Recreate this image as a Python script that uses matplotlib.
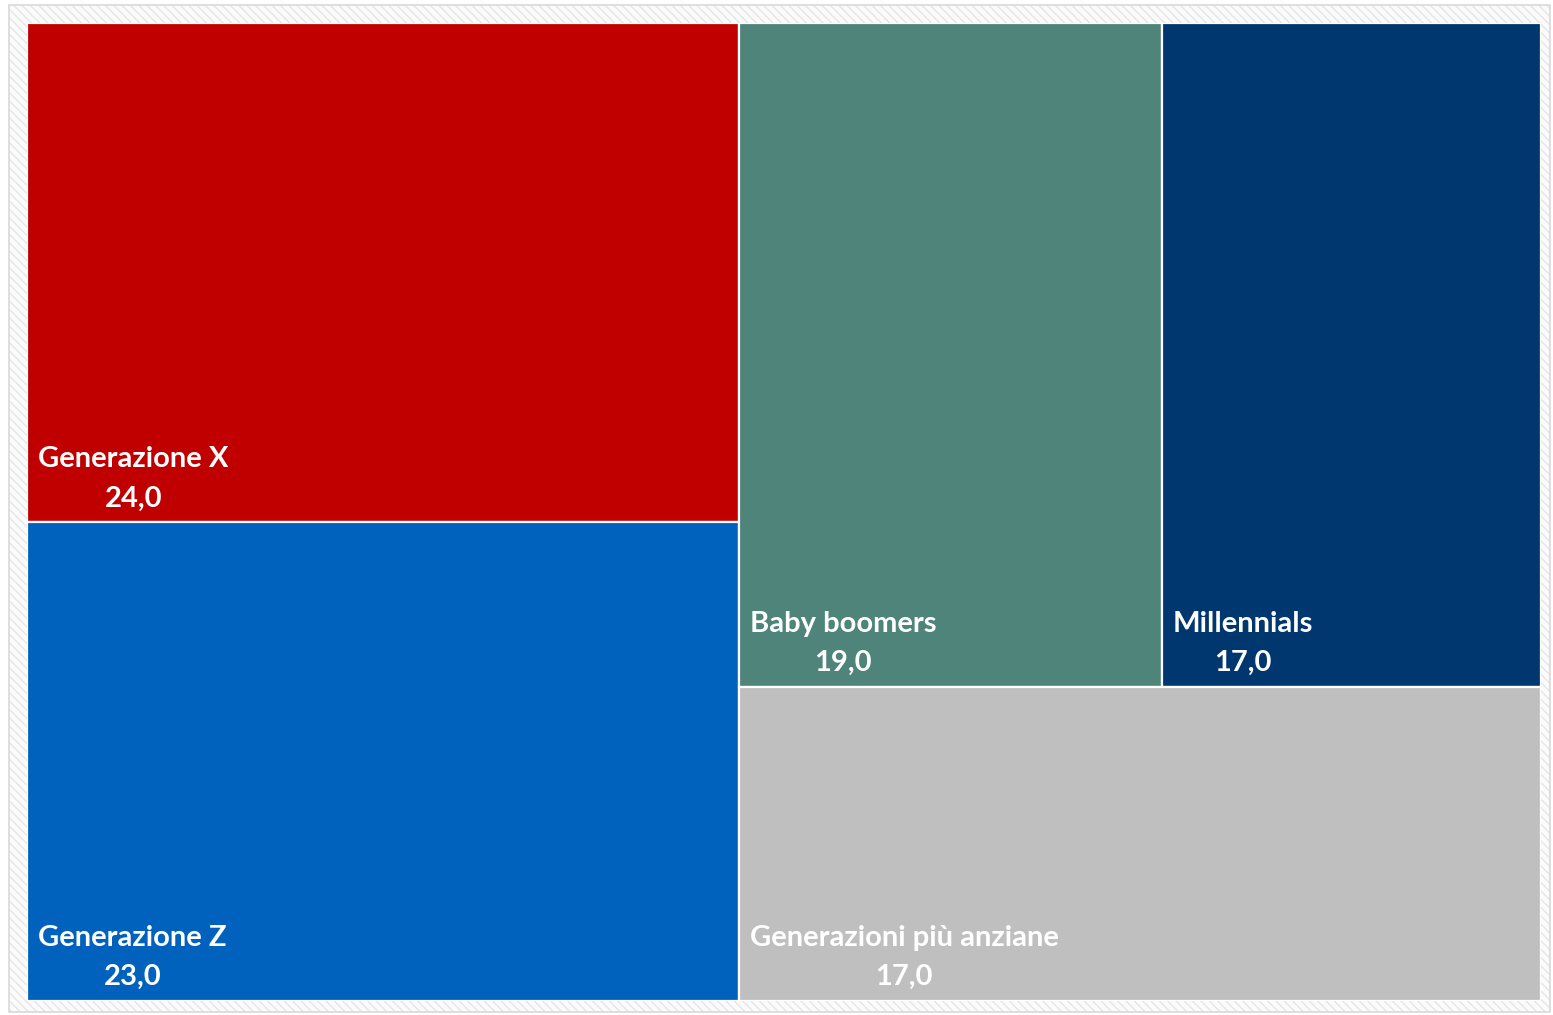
import matplotlib.pyplot as plt
from matplotlib.patches import Rectangle

# generational shares (%)
labels = ["Generazione X", "Generazione Z", "Baby boomers", "Millennials", "Generazioni più anziane"]
values = [24.0, 23.0, 19.0, 17.0, 17.0]
colors = ["#C00000", "#0062BD", "#4E847A", "#00376E", "#BFBFBF"]

plt.rcParams['font.family'] = ['Lato', 'DejaVu Sans']


def layout(vals):
    # left column holds the first two tiles stacked; the rest goes right:
    # a row of two tiles on top and one wide tile beneath
    total = sum(vals)
    wl = (vals[0] + vals[1]) / total
    h0 = vals[0] / (vals[0] + vals[1])
    rest = total - vals[0] - vals[1]
    ht = (vals[2] + vals[3]) / rest
    w2 = vals[2] / (vals[2] + vals[3])
    wr = 1 - wl
    return [
        (0, 1 - h0, wl, h0),
        (0, 0, wl, 1 - h0),
        (wl, 1 - ht, wr * w2, ht),
        (wl + wr * w2, 1 - ht, wr * (1 - w2), ht),
        (wl, 0, wr, 1 - ht),
    ]


W, H = 1553, 1015
fig = plt.figure(figsize=(W / 100, H / 100), dpi=100)
fig.patch.set_facecolor('white')

# striped chart-area background with a thin grey frame
bg = fig.add_axes([0, 0, 1, 1])
bg.set_xlim(0, W)
bg.set_ylim(H, 0)
bg.axis('off')
bg.add_patch(Rectangle((9, 5), 1541, 1007, facecolor='#fbfbfb', edgecolor='#e6e6e6',
                       hatch='\\\\\\\\', linewidth=0))
bg.add_patch(Rectangle((9, 5), 1541, 1007, facecolor='none', edgecolor='#d9d9d9', linewidth=1.2))

x0, x1, y0, y1 = 27, 1541, 23, 1001
ax = fig.add_axes([x0 / W, 1 - y1 / H, (x1 - x0) / W, (y1 - y0) / H])
ax.set_xlim(0, 1)
ax.set_ylim(0, 1)
ax.axis('off')

for (x, y, w, h), lab, val, col in zip(layout(values), labels, values, colors):
    ax.add_patch(Rectangle((x, y), w, h, facecolor=col, edgecolor='white', linewidth=1.6))
    ax.annotate(f"{lab}\n{val:.1f}".replace('.', ','), xy=(x, y), xytext=(11, 11),
                textcoords='offset pixels', ha='left', va='bottom', multialignment='center',
                color='white', fontsize=21, fontweight='bold', linespacing=1.62)

fig.savefig('out.png', dpi=100, facecolor='white')
